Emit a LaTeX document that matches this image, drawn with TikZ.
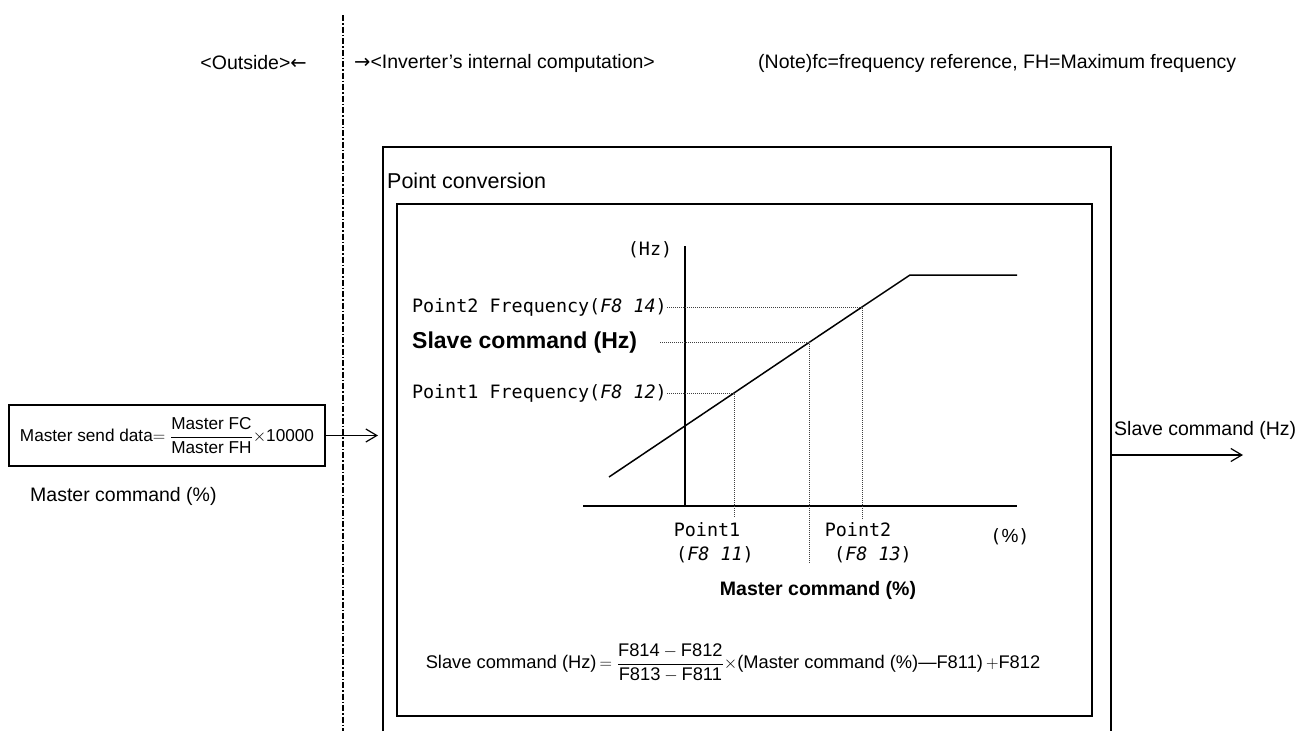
\documentclass[tikz,border=0pt]{standalone}
\usepackage{amsmath}
\usepackage{fontspec}
\setmainfont{Liberation Sans}
\newfontfamily\monof{DejaVu Sans Mono}
\newfontfamily\arrf{DejaVu Sans}
\usetikzlibrary{arrows.meta}
\tikzset{
  box/.style={draw, line width=1.2pt},
  txt/.style={inner sep=0pt, font=\fontsize{19.5}{22}\selectfont},
  bigbold/.style={inner sep=0pt, font=\bfseries\fontsize{23}{26}\selectfont},
  midbold/.style={inner sep=0pt, font=\bfseries\fontsize{19.5}{22}\selectfont},
  mono/.style={inner sep=0pt, font=\monof\fontsize{18.4}{20}\selectfont},
  dotl/.style={line width=0.8pt, dash pattern=on 1pt off 1pt, black!75},
  axis/.style={line width=1.5pt},
  arr/.style={line width=1.2pt, -{Straight Barb[length=11pt,width=13pt]}},
  divider/.style={line width=1.2pt, dash pattern=on 6pt off 2pt on 1.5pt off 2pt}
}
\begin{document}
\begin{tikzpicture}[x=1pt,y=-1pt]
\path[use as bounding box, fill=white] (0,0) rectangle (1298,731);
% divider
\coordinate (dtop) at (343,15);
\coordinate (dbot) at (343,731);
\draw[divider] (dtop) -- (dbot);
\node[txt, anchor=east] (outside) at (307,63) {<Outside>{\arrf ←}};
\node[txt, anchor=west] (inside) at (354,63) {{\arrf →}<Inverter’s internal computation>};
\node[txt, anchor=west] (note) at (758,63) {(Note)fc=frequency reference, FH=Maximum frequency};
% boxes
\draw[box] (383,731) -- (383,147) -- (1111,147) -- (1111,731);
\node[inner sep=0pt, font=\fontsize{21.5}{24}\selectfont, anchor=west] (pc) at (387,181) {Point conversion};
\draw[box] (397,204) rectangle (1092,716);
% axes
\coordinate (yt) at (685,246);
\coordinate (yb) at (685,506);
\coordinate (xl) at (583,506);
\coordinate (xr) at (1017,506);
\draw[axis] (yt) -- (yb);
\draw[axis] (xl) -- (xr);
\coordinate (L0) at (609,477);
\coordinate (P1) at (734,393);
\coordinate (S) at (809,342.5);
\coordinate (P2) at (862,307);
\coordinate (K) at (910,275);
\coordinate (L1) at (1017,275);
\draw[axis] (L0) -- (P1) -- (S) -- (P2) -- (K) -- (L1);
% left labels
\node[mono] (hz) at (650,250) {(Hz)};
\node[mono, anchor=east] (p2f) at (667,307) {Point2 Frequency(\textit{F8 14})};
\node[bigbold, anchor=west] (sc) at (412,342.5) {Slave command (Hz)};
\node[mono, anchor=east] (p1f) at (667,393) {Point1 Frequency(\textit{F8 12})};
% dotted guides
\coordinate (sdot) at (660,342.5);
\coordinate (p1d) at (734,517);
\coordinate (sd) at (809,563);
\coordinate (p2d) at (862,520);
\draw[dotl] (p2f.east) -- (P2) -- (p2d);
\draw[dotl] (sdot) -- (S) -- (sd);
\draw[dotl] (p1f.east) -- (P1) -- (p1d);
% bottom labels
\node[mono] (pt1) at (707,530) {Point1};
\node[mono] (pt1c) at (715,555) {(\textit{F8 11})};
\node[mono] (pt2) at (858,530) {Point2};
\node[mono] (pt2c) at (873,555) {(\textit{F8 13})};
\node[mono] (pct) at (1010,537) {({\rmfamily\fontsize{19}{20}\selectfont\%})};
\node[midbold] (mc) at (818,590) {Master command (\%)};
% formula
\node[inner sep=0pt, font=\fontsize{18.3}{21}\selectfont] (formula) at (733,663)
  {Slave command (Hz)\,$=\dfrac{\text{F814}-\text{F812}}{\text{F813}-\text{F811}}\times$(Master command (\%)—F811)\,$+$F812};
% left box
\node[draw, line width=1.2pt, minimum width=316pt, minimum height=61pt, inner sep=0pt,
  font=\fontsize{17.2}{19}\selectfont] (msd) at (167,435.5)
  {Master send data$=\dfrac{\text{Master FC}}{\text{Master FH}}\times$10000};
\node[txt, anchor=west] (mcl) at (30,496) {Master command (\%)};
\coordinate (in) at (378,435.5);
\draw[arr] (msd.east) -- (in);
% right output
\coordinate (outs) at (1111,455);
\coordinate (oute) at (1243,455);
\draw[arr] (outs) -- (oute);
\node[txt, anchor=west] (scr) at (1114,430) {Slave command (Hz)};
\end{tikzpicture}
\end{document}
